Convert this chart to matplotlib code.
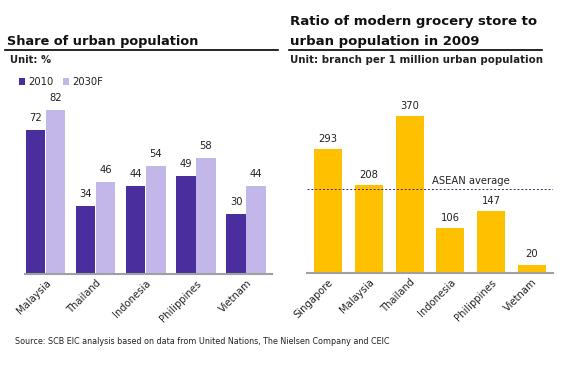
import numpy as np
import matplotlib.pyplot as plt

# data
countries_left = ["Malaysia", "Thailand", "Indonesia", "Philippines", "Vietnam"]
share_2010 = [72, 34, 44, 49, 30]
share_2030 = [82, 46, 54, 58, 44]

countries_right = ["Singapore", "Malaysia", "Thailand", "Indonesia", "Philippines", "Vietnam"]
store_ratio = [293, 208, 370, 106, 147, 20]
asean_avg = 198

dark_purple = "#4B2E9E"
light_purple = "#C3B6E8"
yellow = "#FFC000"
txt = "#222222"

W, H = 566, 365
fig = plt.figure(figsize=(W / 100, H / 100), dpi=100)


def px_axes(x0, x1, ytop, ybot):
    return fig.add_axes([x0 / W, 1 - ybot / H, (x1 - x0) / W, (ybot - ytop) / H])


def style(ax):
    for s in ["top", "right", "left"]:
        ax.spines[s].set_visible(False)
    ax.spines["bottom"].set_color("#A0A0A0")
    ax.spines["bottom"].set_linewidth(1.5)
    ax.set_yticks([])
    ax.tick_params(axis="x", length=0, pad=3)
    for lab in ax.get_xticklabels():
        lab.set_rotation(45)
        lab.set_ha("right")
        lab.set_rotation_mode("anchor")
        lab.set_fontsize(7.2)
        lab.set_color(txt)


# ---- left chart ----
ax1 = px_axes(25, 272, 74, 274)
x = np.arange(len(countries_left))
w = 0.39
b1 = ax1.bar(x - w / 2 - 0.01, share_2010, w, color=dark_purple, label="2010")
b2 = ax1.bar(x + w / 2, share_2030, w, color=light_purple, label="2030F")
for bars in (b1, b2):
    for r in bars:
        ax1.text(r.get_x() + r.get_width() / 2, r.get_height() + 3.5, str(int(r.get_height())),
                 ha="center", va="bottom", fontsize=7.2, color=txt)
ax1.set_xlim(-0.41, 4.51)
ax1.set_ylim(0, 100)
ax1.set_xticks(x)
ax1.set_xticklabels(countries_left)
style(ax1)
ax1.legend(loc="upper left", bbox_to_anchor=(-0.06, 1.03), ncol=2, frameon=False,
           fontsize=7.2, handlelength=0.6, handleheight=0.6, handletextpad=0.3,
           columnspacing=1.0, labelcolor=txt)

# ---- right chart ----
ax2 = px_axes(307, 553, 103.4, 273)
x2 = np.arange(len(countries_right))
b3 = ax2.bar(x2, store_ratio, 0.69, color=yellow)
for r in b3:
    ax2.text(r.get_x() + r.get_width() / 2, r.get_height() + 12, str(int(r.get_height())),
             ha="center", va="bottom", fontsize=7.2, color=txt)
ax2.axhline(asean_avg, color="#3A2A6E", linestyle=(0, (2, 2)), linewidth=0.7)
ax2.text(2.55, asean_avg + 8, "ASEAN average", fontsize=7.2, color=txt, ha="left", va="bottom")
ax2.set_xlim(-0.515, 5.515)
ax2.set_ylim(0, 400)
ax2.set_xticks(x2)
ax2.set_xticklabels(countries_right)
style(ax2)

# ---- titles and notes ----
fig.text(7 / W, 1 - 41 / H, "Share of urban population", fontsize=9.3, fontweight="bold",
         color="#111111", va="center")
fig.text(10 / W, 1 - 60 / H, "Unit: %", fontsize=7.2, fontweight="bold", color=txt, va="center")
fig.text(290 / W, 1 - 22 / H, "Ratio of modern grocery store to", fontsize=9.5,
         fontweight="bold", color="#111111", va="center")
fig.text(290 / W, 1 - 41 / H, "urban population in 2009", fontsize=9.5,
         fontweight="bold", color="#111111", va="center")
fig.text(290 / W, 1 - 60 / H, "Unit: branch per 1 million urban population", fontsize=7.4,
         fontweight="bold", color=txt, va="center")

fig.add_artist(plt.Line2D([5 / W, 278 / W], [1 - 50 / H, 1 - 50 / H], color="black", lw=1.2))
fig.add_artist(plt.Line2D([289 / W, 542 / W], [1 - 50 / H, 1 - 50 / H], color="black", lw=1.2))

fig.text(15 / W, 1 - 341 / H,
         "Source: SCB EIC analysis based on data from United Nations, The Nielsen Company and CEIC",
         fontsize=5.8, color=txt, va="center")

fig.savefig("out.png", dpi=100)
